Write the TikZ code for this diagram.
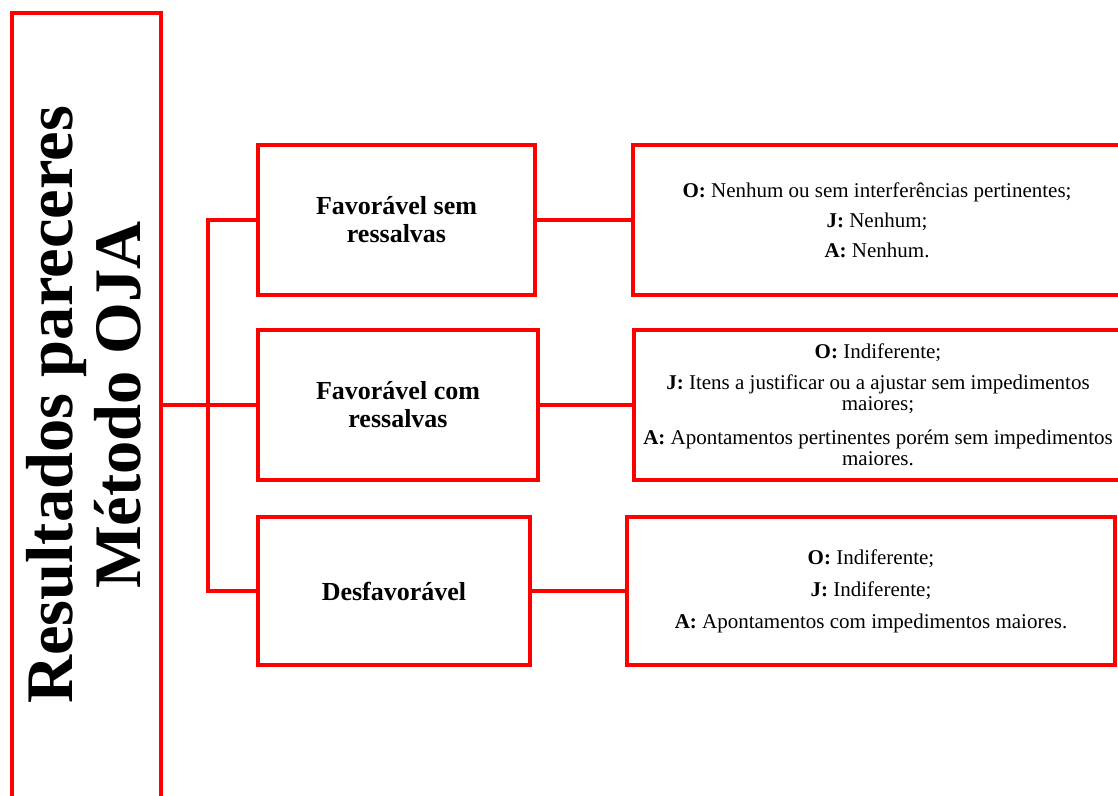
\documentclass[tikz,border=0pt]{standalone}
\usepackage{fontspec}
\setmainfont{Liberation Serif}
\usepackage{graphicx}
\definecolor{boxred}{RGB}{255,0,0}
\begin{document}
\begin{tikzpicture}[x=1pt,y=-1pt,
  box/.style={draw=boxred, line width=4pt, inner sep=0pt, outer sep=0pt, fill=white},
  conn/.style={draw=boxred, line width=4pt},
  midbox/.style={box, minimum height=150pt, font=\fontsize{26}{28}\selectfont\bfseries, align=center},
  detbox/.style={box, minimum width=488pt, minimum height=150pt, font=\fontsize{21}{21}\selectfont, align=center}]
\useasboundingbox (0,0) rectangle (1118,795);
% main vertical box
\node[box, minimum width=149pt, minimum height=807pt] (main) at (86.5,416.5) {};
\node (title) at (93,405) {\rotatebox{90}{\fontsize{66.5}{68}\selectfont\bfseries\begin{tabular}{@{}c@{}}Resultados pareceres\\Método OJA\end{tabular}}};
% middle boxes
\node[midbox, minimum width=277pt] (b1) at (396.5,220) {Favorável sem\\ressalvas};
\node[midbox, minimum width=280pt] (b2) at (398,405) {Favorável com\\ressalvas};
\node[midbox, minimum width=272pt, minimum height=148pt] (b3) at (394,591) {Desfavorável};
% detail boxes
\node[detbox] (r1) at (877,220) {\textbf{O:} Nenhum ou sem interferências pertinentes;\\[9pt]\textbf{J:} Nenhum;\\[9pt]\textbf{A:} Nenhum.};
\node[detbox] (r2) at (878,405) {\textbf{O:} Indiferente;\\[10pt]\textbf{J:} Itens a justificar ou a ajustar sem impedimentos\\maiores;\\[13pt]\textbf{A:} Apontamentos pertinentes porém sem impedimentos\\maiores.};
\node[detbox, minimum height=148pt] (r3) at (871,591) {\textbf{O:} Indiferente;\\[11pt]\textbf{J:} Indiferente;\\[11pt]\textbf{A:} Apontamentos com impedimentos maiores.};
% connectors
\coordinate (spine) at (208,0);
\draw[conn] (main.east |- b2.west) -- (b2.west);
\draw[conn] (b1.west) -- (b1.west -| spine) -- (b3.west -| spine) -- (b3.west);
\draw[conn] (b1.east) -- (r1.west);
\draw[conn] (b2.east) -- (r2.west);
\draw[conn] (b3.east) -- (r3.west);
\end{tikzpicture}
\end{document}
